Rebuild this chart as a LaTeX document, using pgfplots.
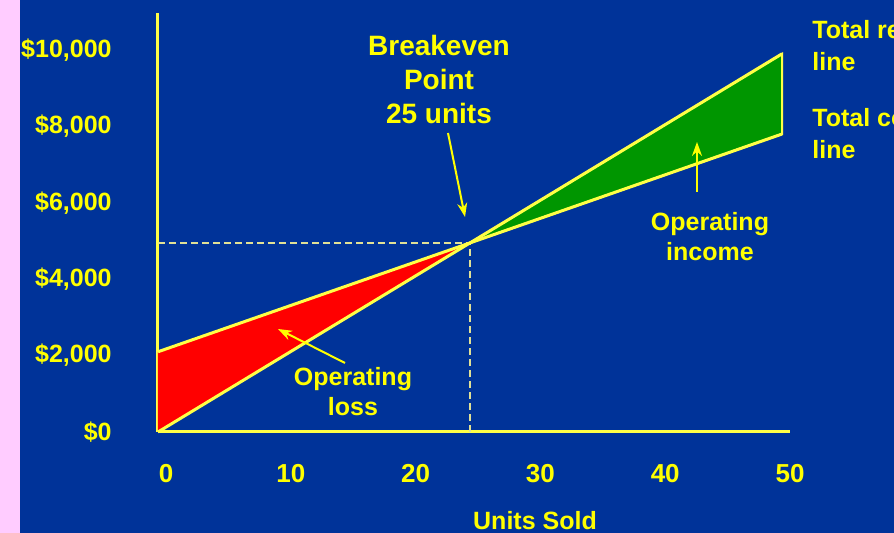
\documentclass[border=0pt]{standalone}
\usepackage{fontspec}
\setmainfont{Liberation Sans}
\usepackage{pgfplots}
\pgfplotsset{compat=1.18}
\usetikzlibrary{arrows.meta}
\definecolor{bg}{RGB}{0,51,153}
\definecolor{pinkside}{RGB}{255,204,255}
\definecolor{ylw}{RGB}{255,255,0}
\definecolor{lineylw}{RGB}{255,255,70}
\definecolor{grn}{RGB}{0,150,0}
\definecolor{dashc}{RGB}{225,225,150}
\begin{document}
\begin{tikzpicture}
\useasboundingbox (-79pt,-50.5pt) rectangle (368pt,216pt);
\clip (-79pt,-50.5pt) rectangle (368pt,216pt);
\fill[pinkside] (-79pt,-50.5pt) rectangle (-69pt,216pt);
\fill[bg] (-69pt,-50.5pt) rectangle (368pt,216pt);
\begin{axis}[
  at={(0pt,0pt)}, anchor=south west,
  scale only axis, width=316pt, height=209.5pt,
  xmin=0, xmax=50.64, ymin=0, ymax=10969,
  axis lines=left,
  axis line style={lineylw, line width=1.5pt, -},
  clip=false,
  scaled y ticks=false, scaled x ticks=false,
  xtick={0,10,20,30,40,50},
  xticklabels={0,10,20,30,40,50},
  ytick={0,2000,4000,6000,8000,10000},
  yticklabels={{\$0},{\$2,000},{\$4,000},{\$6,000},{\$8,000},{\$10,000}},
  major tick length=0pt,
  xticklabel style={font=\fontsize{13}{15}\selectfont\bfseries, text=ylw, anchor=center, yshift=-21pt, xshift=4pt},
  yticklabel style={font=\fontsize{12.5}{15}\selectfont\bfseries, text=ylw, anchor=east, inner sep=0pt, xshift=-23pt},
]
\addplot[fill=red, draw=none] coordinates {(0,0) (0,2100) (25,4950)} -- cycle;
\addplot[fill=grn, draw=lineylw, line width=1pt] coordinates {(25,4950) (50,9900) (50,7800)} -- cycle;
\addplot[dashc, line width=0.6pt, dash pattern=on 3.5pt off 2pt] coordinates {(0,4950) (25,4950)};
\addplot[dashc, line width=0.6pt, dash pattern=on 3.5pt off 2pt] coordinates {(25,0) (25,4950)};
\addplot[lineylw, line width=1.5pt] coordinates {(0,0) (50,9900)};
\addplot[lineylw, line width=1.5pt] coordinates {(0,2100) (50,7800)};
\end{axis}
\begin{scope}[font=\fontsize{12.5}{15}\selectfont\bfseries, text=ylw]
\node[align=center, font=\fontsize{14}{17}\selectfont\bfseries] at (140.5pt,176pt) {Breakeven\\Point\\25 units};
\draw[ylw, line width=1pt, -{Stealth[length=7pt,width=5pt]}] (145pt,149.5pt) -- (153.5pt,107.5pt);
\node[align=center] at (97.5pt,20pt) {Operating\\loss};
\draw[ylw, line width=1pt, -{Stealth[length=7pt,width=5pt]}] (93.5pt,34.5pt) -- (60pt,51.5pt);
\node[align=center] at (276pt,97.5pt) {Operating\\income};
\draw[ylw, line width=1pt, -{Stealth[length=7pt,width=5pt]}] (269.5pt,120pt) -- (269.5pt,145pt);
\node[align=left, anchor=west, inner sep=0pt, font=\fontsize{12.5}{16}\selectfont\bfseries] at (327pt,193pt) {Total revenue\\line};
\node[align=left, anchor=west, inner sep=0pt, font=\fontsize{12.5}{16}\selectfont\bfseries] at (327pt,149pt) {Total costs\\line};
\node at (188.5pt,-44.5pt) {Units Sold};
\end{scope}
\end{tikzpicture}
\end{document}
